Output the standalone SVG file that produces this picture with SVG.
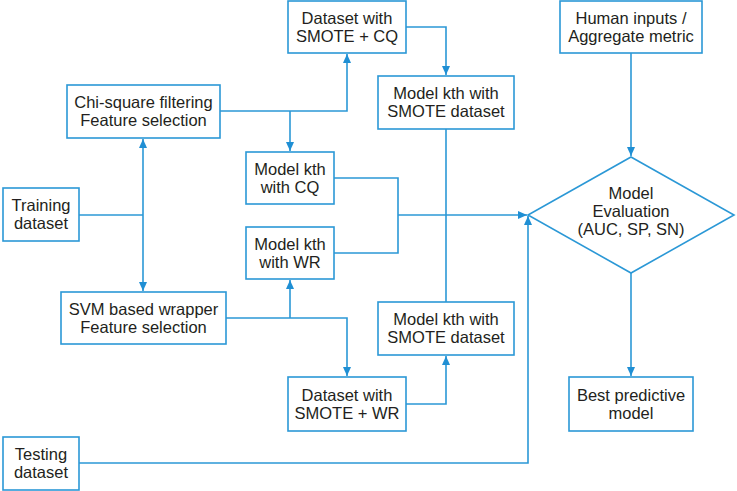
<svg xmlns="http://www.w3.org/2000/svg" width="737" height="491" viewBox="0 0 737 491">
<style>
.box{fill:#fff;stroke:#2b98d6;stroke-width:1.6}
.t{font-family:"Liberation Sans",Arial,sans-serif;font-size:16.5px;fill:#231f20;text-anchor:middle}
.c{fill:none;stroke:#2b98d6;stroke-width:1.6}
</style>
<defs>
<marker id="ah" markerUnits="userSpaceOnUse" markerWidth="10" markerHeight="10" viewBox="0 0 10 10" refX="9" refY="5" orient="auto">
<path d="M0,1 L9,5 L0,9 Z" fill="#1f8fd4"/>
</marker>
</defs>
<rect width="737" height="491" fill="#fff"/>
<g id="connectors">
<path class="c" d="M79,215 H143"/>
<path class="c" d="M143,215 V139" marker-end="url(#ah)"/>
<path class="c" d="M143,215 V291" marker-end="url(#ah)"/>
<path class="c" d="M220,111 H347 V54" marker-end="url(#ah)"/>
<path class="c" d="M290,111 V151" marker-end="url(#ah)"/>
<path class="c" d="M406,27 H446 V75" marker-end="url(#ah)"/>
<path class="c" d="M446,129 V302"/>
<path class="c" d="M226,318 H347 V376" marker-end="url(#ah)"/>
<path class="c" d="M290,318 V280" marker-end="url(#ah)"/>
<path class="c" d="M406,404 H446 V356" marker-end="url(#ah)"/>
<path class="c" d="M334,178 H398 V253 H334"/>
<path class="c" d="M398,215 H527" marker-end="url(#ah)"/>
<path class="c" d="M79,463 H528 V216" marker-end="url(#ah)"/>
<path class="c" d="M631,53 V156" marker-end="url(#ah)"/>
<path class="c" d="M631,273 V376" marker-end="url(#ah)"/>
</g>
<g id="dataset-cq"><rect class="box" x="288" y="1" width="118" height="52"/><text class="t" x="347" y="23.5">Dataset with</text><text class="t" x="347" y="41.5">SMOTE + CQ</text></g>
<g id="human"><rect class="box" x="560" y="1" width="142" height="52"/><text class="t" x="631" y="23.5">Human inputs /</text><text class="t" x="631" y="41.5">Aggregate metric</text></g>
<g id="chi"><rect class="box" x="67" y="85" width="153" height="53"/><text class="t" x="143.5" y="108">Chi-square filtering</text><text class="t" x="143.5" y="126">Feature selection</text></g>
<g id="model-smote-top"><rect class="box" x="378" y="76" width="136" height="53"/><text class="t" x="446" y="99">Model kth with</text><text class="t" x="446" y="117">SMOTE dataset</text></g>
<g id="model-cq"><rect class="box" x="246" y="152" width="88" height="52"/><text class="t" x="290" y="174.5">Model kth</text><text class="t" x="290" y="192.5">with CQ</text></g>
<g id="training"><rect class="box" x="3" y="188" width="76" height="53"/><text class="t" x="41" y="211">Training</text><text class="t" x="41" y="229">dataset</text></g>
<g id="model-wr"><rect class="box" x="246" y="227" width="88" height="52"/><text class="t" x="290" y="249.5">Model kth</text><text class="t" x="290" y="267.5">with WR</text></g>
<g id="evaluation"><polygon class="box" points="631,157 734,215 631,273 528,215"/><text class="t" x="631" y="199">Model</text><text class="t" x="631" y="217">Evaluation</text><text class="t" x="631" y="235">(AUC, SP, SN)</text></g>
<g id="svm"><rect class="box" x="61" y="292" width="165" height="52"/><text class="t" x="143.5" y="314.5">SVM based wrapper</text><text class="t" x="143.5" y="332.5">Feature selection</text></g>
<g id="model-smote-bottom"><rect class="box" x="378" y="302" width="136" height="53"/><text class="t" x="446" y="325">Model kth with</text><text class="t" x="446" y="343">SMOTE dataset</text></g>
<g id="dataset-wr"><rect class="box" x="288" y="377" width="118" height="54"/><text class="t" x="347" y="400.5">Dataset with</text><text class="t" x="347" y="418.5">SMOTE + WR</text></g>
<g id="best"><rect class="box" x="569" y="377" width="124" height="54"/><text class="t" x="631" y="400.5">Best predictive</text><text class="t" x="631" y="418.5">model</text></g>
<g id="testing"><rect class="box" x="3" y="437" width="76" height="53"/><text class="t" x="41" y="460">Testing</text><text class="t" x="41" y="478">dataset</text></g>
</svg>
